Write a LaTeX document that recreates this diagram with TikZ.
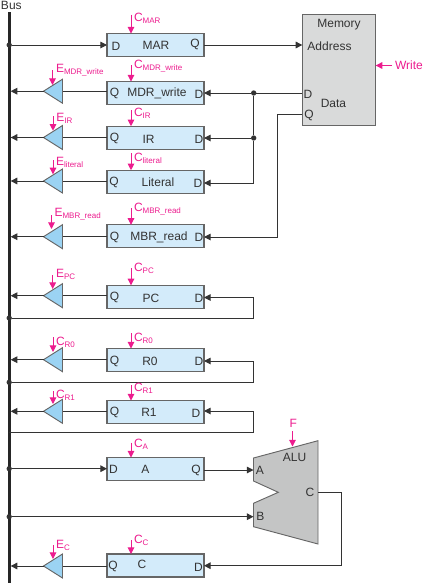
\documentclass[tikz,border=0pt]{standalone}
\usepackage{fontspec}
\setmainfont{Liberation Sans}
\usetikzlibrary{arrows.meta,shapes.geometric}
\definecolor{pinkc}{HTML}{EC1C8E}
\definecolor{wirec}{HTML}{333333}
\definecolor{regf}{HTML}{D3EBFA}
\definecolor{trif}{HTML}{9BD3F3}
\definecolor{edgec}{HTML}{666666}
\definecolor{memf}{HTML}{D9DADA}
\definecolor{aluf}{HTML}{C4C5C5}
\newcommand{\sublab}[2]{#1\raisebox{-1.6pt}{\fontsize{6}{6}\selectfont #2}}
\tikzset{
  x=0.75pt,y=-0.75pt,
  font=\fontsize{9}{10}\selectfont,
  every node/.append style={inner sep=0pt,outer sep=0pt,text=black!80},
  reg/.style={draw=edgec,fill=regf,line width=0.8pt,minimum width=72.75pt,minimum height=17.25pt},
  tribuf/.style={isosceles triangle,isosceles triangle stretches,shape border rotate=180,anchor=apex,
     draw=edgec,fill=trif,line width=0.7pt,minimum width=18pt,minimum height=14.25pt},
  wire/.style={draw=wirec,line width=0.75pt},
  inp/.style={wire,-{Triangle[length=5pt,width=5pt]}},
  ctl/.style={draw=pinkc,line width=0.75pt,-{Triangle[length=5pt,width=5pt]}},
  plab/.style={anchor=base west,text=pinkc},
  dotn/.style={circle,fill=wirec,minimum size=4pt},
}
\begin{document}
\begin{tikzpicture}
\useasboundingbox (0,0) rectangle (423,583);
% bus
\node[fill=black!85,minimum width=2.2pt,minimum height=428.25pt] (bus) at (9.2,297.5) {};
\node[anchor=base west] (buslab) at (1,9) {Bus};
% memory
\node[draw=edgec,fill=memf,line width=0.8pt,minimum width=55pt,minimum height=83.5pt] (mem) at (339,70) {};
\node (memt) at (339,25) {Memory};
\node (memaddr) at (329.5,46) {Address};
\node (memd) at (308,94.5) {D};
\node (memdata) at (333.5,103.5) {Data};
\node (memq) at (309,115) {Q};
% registers
\node[reg] (mar) at (155.5,45) {};
\node[reg] (mdr) at (155.5,93) {};
\node[reg] (ir) at (155.5,137.7) {};
\node[reg] (lit) at (155.5,181.7) {};
\node[reg] (mbr) at (155.5,236.3) {};
\node[reg] (pc) at (155.5,296.8) {};
\node[reg] (rzero) at (155.5,360) {};
\node[reg] (rone) at (155.5,412) {};
\node[reg] (ra) at (155.5,469) {};
\node[reg] (rc) at (155.5,565.5) {};
% register texts
\node at (116,46) {D}; \node at (156,45.5) {MAR}; \node at (195,44) {Q};
\node at (114.5,93) {Q}; \node at (157,93.5) {MDR\_write}; \node at (199,94) {D};
\node at (114.5,138.5) {Q}; \node at (148.5,139) {IR}; \node at (199,139) {D};
\node at (114,182) {Q}; \node at (158,182) {Literal}; \node at (198,183) {D};
\node at (114.5,237) {Q}; \node at (159,237) {MBR\_read}; \node at (199,237.5) {D};
\node at (114.5,297) {Q}; \node at (151,298) {PC}; \node at (199,298) {D};
\node at (114.5,361) {Q}; \node at (150,361) {R0}; \node at (199,361) {D};
\node at (114.5,412) {Q}; \node at (149,412) {R1}; \node at (196,413) {D};
\node at (113.5,469.5) {D}; \node at (145.5,469.5) {A}; \node at (196,470) {Q};
\node at (113,566) {Q}; \node at (142,564) {C}; \node at (198.5,567) {D};
% wires under buffers
\coordinate (tmdr) at (43.5,91.2);
\coordinate (tir) at (43.5,137.5);
\coordinate (tlit) at (43.5,181);
\coordinate (tmbr) at (43.5,236.7);
\coordinate (tpc) at (43.5,295.7);
\coordinate (tr0) at (43.5,359.7);
\coordinate (tr1) at (43.5,411.3);
\coordinate (tc) at (43.5,566);
\node[tribuf] (bmdr) at (tmdr) {};
\node[tribuf] (bir) at (tir) {};
\node[tribuf] (blit) at (tlit) {};
\node[tribuf] (bmbr) at (tmbr) {};
\node[tribuf] (bpc) at (tpc) {};
\node[tribuf] (brzero) at (tr0) {};
\node[tribuf] (brone) at (tr1) {};
\node[tribuf] (bc) at (tc) {};
\foreach \b/\r in {bmdr/mdr,bir/ir,blit/lit,bmbr/mbr,bpc/pc,brzero/rzero,brone/rone,bc/rc}{
  \draw[wire] (\r.west |- \b.lower side) -- (\b.lower side);
  \draw[inp] (\b.apex) -- (bus.east |- \b.apex);
}
% MAR
\node[dotn] (dmar) at (bus.center |- mar.west) {};
\draw[inp] (dmar) -- (mar.west);
\coordinate (maro) at (mar.east);
\draw[inp] (maro) -- (mem.west |- maro);
% memory data net
\coordinate (dd) at (302.3,93);
\coordinate (di) at (253.7,138);
\node[dotn] (ndd) at (253.7,93) {};
\node[dotn] (ndi) at (di) {};
\coordinate (cl) at (253.7,183);
\draw[inp] (dd) -- (ndd) -- (ndd -| mdr.east);
\draw[wire] (ndd) -- (ndi) -- (cl);
\draw[inp] (ndi) -- (ndi -| ir.east);
\draw[inp] (cl) -- (cl -| lit.east);
\coordinate (mqa) at (302.3,114);
\coordinate (mqb) at (277.7,114);
\coordinate (mqc) at (277.7,237);
\draw[inp] (mqa) -- (mqb) -- (mqc) -- (mqc -| mbr.east);
% loops
\node[dotn] (dpc) at (9.2,318) {};
\node[dotn] (drz) at (9.2,382.3) {};
\coordinate (lpca) at (253.5,297.5); \coordinate (lpcb) at (253.5,318);
\draw[inp] (dpc) -- (lpcb) -- (lpca) -- (lpca -| pc.east);
\coordinate (lra) at (253.5,361); \coordinate (lrb) at (253.5,382.3);
\draw[inp] (drz) -- (lrb) -- (lra) -- (lra -| rzero.east);
\coordinate (lsa) at (253.5,411); \coordinate (lsb) at (253.5,432.3);
\draw[inp] (bus.center |- lsb) -- (lsb) -- (lsa) -- (lsa -| rone.east);
% ALU
\coordinate (alua) at (253.5,470);
\coordinate (alub) at (253.5,516.7);
\coordinate (aluc) at (318,492.3);
\draw[draw=edgec,fill=aluf,line width=0.7pt] (253.5,458) -- (318,440.7) -- (318,544) -- (253.5,526.7) -- (253.5,503.3) -- (278.3,492.3) -- (253.5,481) -- cycle;
\node at (294.5,457.5) {ALU};
\node at (260,470.5) {A};
\node at (260.5,516.5) {B};
\node at (310,492.5) {C};
\node[dotn] (dra) at (9.2,468.7) {};
\draw[inp] (dra) -- (dra -| ra.west);
\draw[inp] (ra.east |- alua) -- (alua);
\node[dotn] (drb) at (9.2,516.7) {};
\draw[inp] (drb) -- (alub);
\coordinate (coa) at (341.7,492.3); \coordinate (cob) at (341.7,565.7);
\draw[inp] (aluc) -- (coa) -- (cob) -- (cob -| rc.east);
% clock controls
\foreach \r/\yt/\bl/\sub in {mar/14.5/21/MAR,mdr/65/68/MDR\_write,ir/110/116.7/IR,lit/153/161/literal,mbr/208/211.7/MBR\_read,pc/268/271/PC,rzero/333/341/R0,rone/385/391.7/R1,ra/442.7/447/A,rc/540/543/C}{
  \coordinate (c\r) at (131,\yt);
  \draw[ctl] (c\r) -- (c\r |- \r.north);
  \node[plab] at (134,\bl) {\sublab{C}{\sub}};
}
% enable controls
\foreach \x/\yt/\ye/\lx/\bl/\lab/\sub [count=\i] in {
  52.5/70/85/56/72.7/E/MDR\_write,
  53/116/130.7/56.5/121.7/E/IR,
  53/160/174.3/56/165/E/literal,
  51.5/215/229/54.5/216.7/E/MBR\_read,
  52.7/275/289/56/277.3/E/PC,
  53/337/352/56/345/C/R0,
  53/391/404/56/398/C/R1,
  53/545/559/56/548/E/C}{
  \coordinate (en\i) at (\x,\yt);
  \coordinate (ef\i) at (\x,\ye);
  \draw[ctl] (en\i) -- (ef\i);
  \node[plab] at (\lx,\bl) {\sublab{\lab}{\sub}};
}
% Write and F
\node[plab] (wr) at (395,69.5) {Write};
\coordinate (wra) at (392,65.5);
\draw[ctl] (wra) -- (wra -| mem.east);
\node[plab] (ftxt) at (289.5,427) {F};
\coordinate (fa) at (292.5,431); \coordinate (fb) at (292.5,446.5);
\draw[ctl] (fa) -- (fb);
\end{tikzpicture}
\end{document}
